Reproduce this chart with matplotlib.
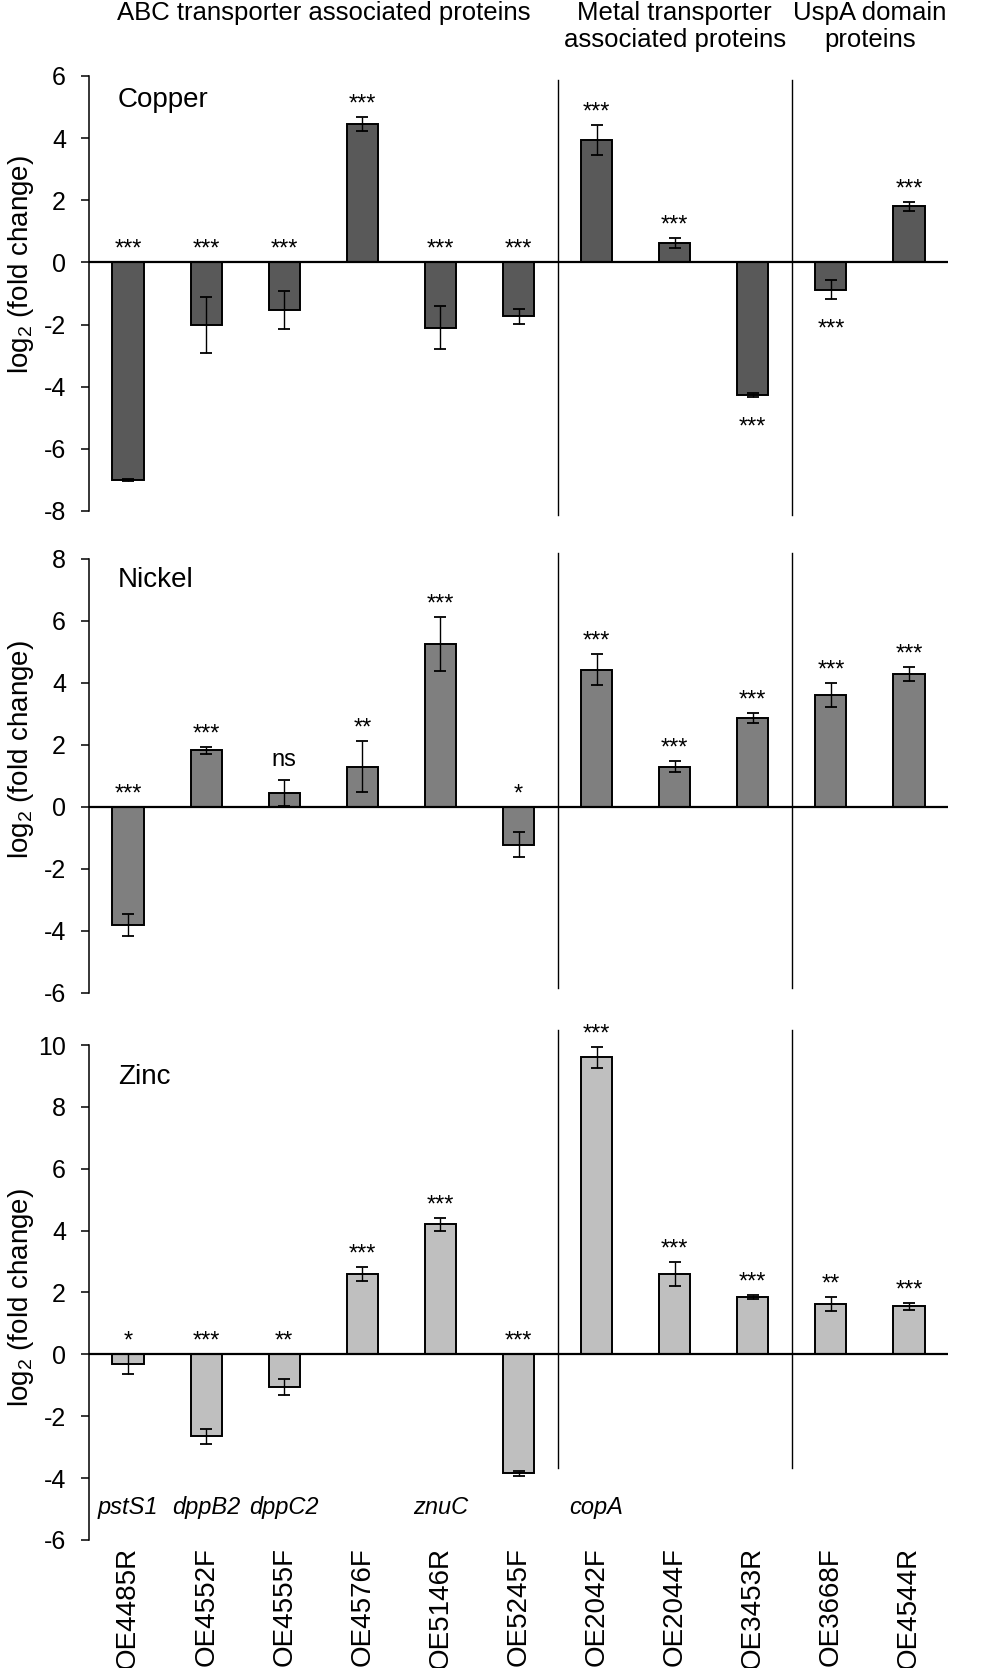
import matplotlib
matplotlib.use('Agg')
import matplotlib.pyplot as plt
import numpy as np
from matplotlib.transforms import blended_transform_factory

plt.rcParams['font.family'] = ['Liberation Sans', 'DejaVu Sans']
plt.rcParams['axes.unicode_minus'] = False
plt.rcParams['mathtext.fontset'] = 'custom'
plt.rcParams['mathtext.rm'] = 'Liberation Sans'

# 基因与分组
genes = ['OE4485R', 'OE4552F', 'OE4555F', 'OE4576F', 'OE5146R', 'OE5245F',
         'OE2042F', 'OE2044F', 'OE3453R', 'OE3668F', 'OE4544R']
gene_names = ['pstS1', 'dppB2', 'dppC2', '', 'znuC', '', 'copA', '', '', '', '']
group_titles = ['ABC transporter associated proteins',
                'Metal transporter\nassociated proteins',
                'UspA domain\nproteins']
group_sizes = [6, 3, 2]

# Copper
copper_val = [-7.0, -2.0, -1.53, 4.45, -2.1, -1.73, 3.95, 0.62, -4.27, -0.88, 1.8]
copper_err = [0.03, 0.9, 0.6, 0.22, 0.7, 0.24, 0.48, 0.17, 0.07, 0.3, 0.13]
copper_sig = ['***'] * 11
copper_below = [False] * 8 + [True, True, False]

# Nickel
nickel_val = [-3.8, 1.83, 0.45, 1.3, 5.27, -1.22, 4.42, 1.3, 2.87, 3.6, 4.3]
nickel_err = [0.35, 0.12, 0.42, 0.82, 0.87, 0.4, 0.5, 0.18, 0.17, 0.39, 0.23]
nickel_sig = ['***', '***', 'ns', '**', '***', '*', '***', '***', '***', '***', '***']
nickel_below = [False] * 11

# Zinc
zinc_val = [-0.32, -2.65, -1.05, 2.6, 4.2, -3.85, 9.6, 2.6, 1.86, 1.62, 1.55]
zinc_err = [0.32, 0.25, 0.25, 0.23, 0.2, 0.07, 0.35, 0.4, 0.07, 0.23, 0.12]
zinc_sig = ['*', '***', '**', '***', '***', '***', '***', '***', '***', '**', '***']
zinc_below = [False] * 11

# name, values, errors, sig, below, color, ylim, axes [bottom, height], ylabel y, name dy, divider span
panels = [
    ('Copper', copper_val, copper_err, copper_sig, copper_below, '#595959',
     (-8, 6), (0.69365, 0.2608), 0.566, -24, (-0.009, 0.991)),
    ('Nickel', nickel_val, nickel_err, nickel_sig, nickel_below, '#7f7f7f',
     (-6, 8), (0.40468, 0.2602), 0.56, -21, (0.012, 1.014)),
    ('Zinc', zinc_val, zinc_err, zinc_sig, zinc_below, '#bfbfbf',
     (-6, 10), (0.07674, 0.29676), 0.489, -32, (0.145, 1.03)),
]

fig = plt.figure(figsize=(10, 16.68), dpi=100)
x = np.arange(len(genes))
bounds = np.cumsum(group_sizes)[:-1] - 0.5

axes = []
for (name, val, err, sig, below, color, ylim, pos, ylab_y, name_dy, vspan) in panels:
    ax = fig.add_axes([0.089, pos[0], 0.859, pos[1]])
    axes.append(ax)
    ax.bar(x, val, width=0.4, color=color, edgecolor='black', linewidth=1.4, zorder=2)
    ax.errorbar(x, val, yerr=err, fmt='none', ecolor='black', elinewidth=1,
                capsize=4.5, capthick=1.3, zorder=3)
    ax.axhline(0, color='black', lw=1.6, zorder=4)
    ax.set_xlim(-0.5, len(genes) - 0.5)
    ax.set_ylim(*ylim)
    ax.set_yticks(range(ylim[0], ylim[1] + 1, 2))
    for s in ['top', 'right', 'bottom']:
        ax.spines[s].set_visible(False)
    ax.spines['left'].set_linewidth(1.1)
    ax.tick_params(axis='y', direction='out', length=5.5, width=1.1, pad=11, labelsize=18)
    ax.tick_params(axis='x', length=0)
    ax.set_xticks(x)
    ax.set_xticklabels([])

    for b in bounds:
        ax.axvline(b, ymin=vspan[0], ymax=vspan[1], color='black', lw=1.0, clip_on=False)

    # 显著性标记
    for i in range(len(genes)):
        if below[i]:
            ax.annotate(sig[i], xy=(i, val[i] - err[i]), xytext=(0, -36),
                        textcoords='offset pixels', ha='center', va='baseline', fontsize=17)
        else:
            y0 = max(0, val[i] + err[i])
            dy = 14 if sig[i] == 'ns' else 6.5
            ax.annotate(sig[i], xy=(i, y0), xytext=(0, dy),
                        textcoords='offset pixels', ha='center', va='baseline', fontsize=17)

    ax.annotate(name, xy=(0, 1), xycoords='axes fraction', xytext=(29, name_dy),
                textcoords='offset pixels', ha='left', va='center', fontsize=20)
    ax.set_ylabel('log$_\\mathregular{2}$ (fold change)', fontsize=20)
    ax.yaxis.set_label_coords(-0.062, ylab_y)

# 底部基因标签
ax = axes[-1]
ax.set_xticklabels(genes, rotation=90, fontsize=20)
ax.tick_params(axis='x', pad=5)
for i, g in enumerate(gene_names):
    if g:
        ax.text(i, -4.95, g, ha='center', va='center', style='italic', fontsize=17)

# 顶部分组标题
trans = blended_transform_factory(axes[0].transData, fig.transFigure)
start = 0
for title, n in zip(group_titles, group_sizes):
    center = start + (n - 1) / 2
    axes[0].text(center, 0.9995, title, transform=trans, ha='center', va='top',
                 fontsize=18.5, linespacing=1.15, multialignment='center')
    start += n

fig.savefig('out.png', dpi=100)
